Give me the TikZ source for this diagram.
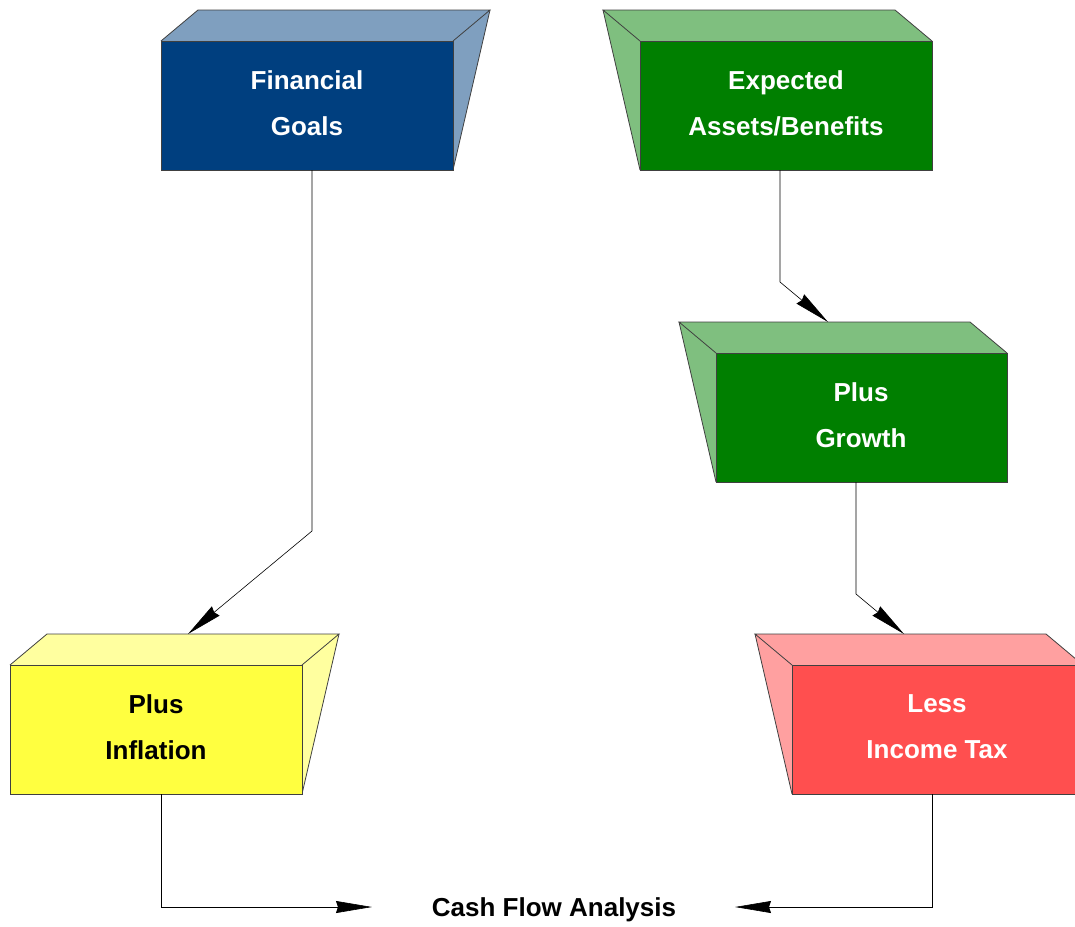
\documentclass[tikz,border=0pt]{standalone}
\usepackage{fontspec}
\setmainfont{Liberation Sans}
\usetikzlibrary{arrows.meta}
\definecolor{bluefront}{RGB}{0,63,127}
\definecolor{blueside}{RGB}{127,159,191}
\definecolor{greenfront}{RGB}{0,127,0}
\definecolor{greenside}{RGB}{127,191,127}
\definecolor{yellowfront}{RGB}{255,255,64}
\definecolor{yellowside}{RGB}{255,255,159}
\definecolor{redfront}{RGB}{255,79,79}
\definecolor{redside}{RGB}{255,160,160}
\tikzset{
  face/.style={draw=black!75, line width=0.8pt, line join=miter},
  lbl/.style={font=\fontsize{26}{46}\selectfont\bfseries, align=center, inner sep=0pt},
  conn/.style={draw=black, line width=0.6pt, -{Stealth[length=36pt,width=12pt,inset=2pt,fill=black]}},
}
\begin{document}
\begin{tikzpicture}[x=1pt,y=-1pt]
\useasboundingbox (0,0) rectangle (1075,926);
% Financial Goals
\fill[blueside] (161,41) -- (198,10) -- (490,10) -- (453,41) -- cycle;
\fill[blueside] (453,41) -- (490,10) -- (453,170) -- cycle;
\draw[face] (161,41) -- (198,10) -- (490,10) -- (453,41);
\draw[face] (490,10) -- (453,170);
\draw[face, fill=bluefront] (161,41) rectangle (453,170);
\node[lbl, text=white] (fg) at (307,103) {Financial\\Goals};
\coordinate (fgb) at (312,170);
% Expected Assets/Benefits
\fill[greenside] (603,10) -- (895,10) -- (932,41) -- (640,41) -- cycle;
\fill[greenside] (603,10) -- (640,41) -- (640,170) -- cycle;
\draw[face] (640,41) -- (603,10) -- (895,10) -- (932,41);
\draw[face] (603,10) -- (640,170);
\draw[face, fill=greenfront] (640,41) rectangle (932,170);
\node[lbl, text=white] (ea) at (786,103) {Expected\\Assets/Benefits};
\coordinate (eab) at (780,170);
% Plus Growth
\fill[greenside] (679,322) -- (970,322) -- (1007,353) -- (716,353) -- cycle;
\fill[greenside] (679,322) -- (716,353) -- (716,482) -- cycle;
\draw[face] (716,353) -- (679,322) -- (970,322) -- (1007,353);
\draw[face] (679,322) -- (716,482);
\draw[face, fill=greenfront] (716,353) rectangle (1007,482);
\node[lbl, text=white] (pg) at (861,415) {Plus\\Growth};
\coordinate (pgt) at (828,322);
\coordinate (pgb) at (856,482);
% Plus Inflation
\fill[yellowside] (10,665) -- (47,634) -- (339,634) -- (302,665) -- cycle;
\fill[yellowside] (302,665) -- (339,634) -- (302,794) -- cycle;
\draw[face] (10,665) -- (47,634) -- (339,634) -- (302,665);
\draw[face] (339,634) -- (302,794);
\draw[face, fill=yellowfront] (10,665) rectangle (302,794);
\node[lbl, text=black] (pi) at (156,727) {Plus\\Inflation};
\coordinate (pit) at (188,634);
\coordinate (pib) at (161,794);
% Less Income Tax
\fill[redside] (755,634) -- (1046,634) -- (1083,665) -- (792,665) -- cycle;
\fill[redside] (755,634) -- (792,665) -- (792,794) -- cycle;
\draw[face] (792,665) -- (755,634) -- (1046,634) -- (1083,665);
\draw[face] (755,634) -- (792,794);
\draw[face, fill=redfront] (792,665) rectangle (1083,794);
\node[lbl, text=white] (lt) at (937,727) {Less\\Income Tax};
\coordinate (ltt) at (904,634);
\coordinate (ltb) at (932,794);
% Cash Flow Analysis
\node[font=\fontsize{26}{30}\selectfont\bfseries, inner sep=0pt] (cf) at (554,910) {Cash Flow Analysis};
\coordinate (cfl) at (372,907);
\coordinate (cfr) at (735,907);
% connectors
\draw[conn] (fgb) -- (312,531) -- (pit);
\draw[conn] (eab) -- (780,282) -- (pgt);
\draw[conn] (pgb) -- (856,594) -- (ltt);
\draw[conn] (pib) -- (161,907) -- (cfl);
\draw[conn] (ltb) -- (932,907) -- (cfr);
\end{tikzpicture}
\end{document}
